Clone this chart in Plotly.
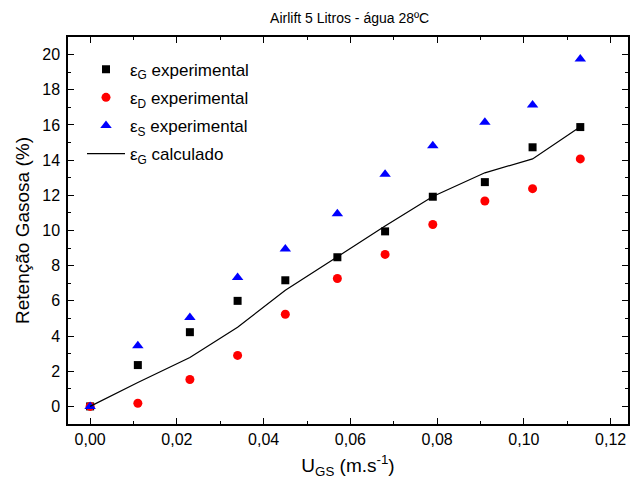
import plotly.graph_objects as go

ugs = [0.0, 0.011, 0.023, 0.034, 0.045, 0.057, 0.068, 0.079, 0.091, 0.102, 0.113]
eps_g_exp = [0.0, 2.35, 4.22, 6.0, 7.17, 8.48, 9.95, 11.92, 12.75, 14.73, 15.88]
eps_d_exp = [0.0, 0.18, 1.53, 2.9, 5.24, 7.27, 8.64, 10.34, 11.68, 12.38, 14.07]
eps_s_exp = [0.0, 3.45, 5.05, 7.33, 8.95, 10.95, 13.2, 14.82, 16.15, 17.13, 19.75]
eps_g_calc = [0.0, 1.36, 2.78, 4.5, 6.6, 8.5, 10.25, 11.93, 13.28, 14.07, 15.9]

font = "Arial, Liberation Sans, sans-serif"

fig = go.Figure()
fig.add_trace(go.Scatter(x=ugs, y=eps_g_exp, mode="markers", name="ε<sub>G</sub> experimental",
                         legendgroup="a", marker=dict(symbol="square", size=8, color="black")))
fig.add_trace(go.Scatter(x=ugs, y=eps_d_exp, mode="markers", name="ε<sub>D</sub> experimental",
                         legendgroup="b", marker=dict(symbol="circle", size=9, color="red")))
fig.add_trace(go.Scatter(x=ugs, y=eps_s_exp, mode="markers", name="ε<sub>S</sub> experimental",
                         legendgroup="c", marker=dict(symbol="triangle-up", size=10, color="blue")))
fig.add_trace(go.Scatter(x=ugs, y=eps_g_calc, mode="lines", name="ε<sub>G</sub> calculado",
                         legendgroup="d", line=dict(color="black", width=1.2)))

axis_common = dict(showline=True, linecolor="black", linewidth=1.5, mirror="ticks",
                   ticks="inside", ticklen=6, tickwidth=1.2, tickcolor="black",
                   showgrid=False, zeroline=False,
                   tickfont=dict(family=font, size=16, color="black"))

fig.update_layout(
    width=630, height=494,
    margin=dict(l=68, r=0, t=37, b=70),
    paper_bgcolor="white", plot_bgcolor="white",
    separators=",.",
    font=dict(family=font, color="black"),
    title=dict(text="Airlift 5 Litros - água 28ºC", x=0.555, xanchor="center", y=0.963, yanchor="middle",
               font=dict(family=font, size=14, color="black")),
    showlegend=True,
    legend=dict(x=0.025, y=0.962, xanchor="left", yanchor="top", bgcolor="rgba(0,0,0,0)",
                font=dict(family=font, size=17, color="black"), itemwidth=38, tracegroupgap=3,
                traceorder="grouped"),
    xaxis=dict(range=[-0.0051, 0.124], dtick=0.02, tick0=0, tickformat=".2f",
               minor=dict(ticks="inside", ticklen=3, dtick=0.01, tickcolor="black", tickwidth=1.2),
               title=dict(text="U<sub>GS</sub> (m.s<sup>-1</sup>)", standoff=12,
                          font=dict(family=font, size=19, color="black")),
               **axis_common),
    yaxis=dict(range=[-1, 21], dtick=2, tick0=0, ticklabelstandoff=3,
               minor=dict(ticks="inside", ticklen=3, dtick=1, tickcolor="black", tickwidth=1.2),
               title=dict(text="Retenção Gasosa (%)", standoff=8,
                          font=dict(family=font, size=19, color="black")),
               **axis_common),
)

fig.write_html("out.html")
